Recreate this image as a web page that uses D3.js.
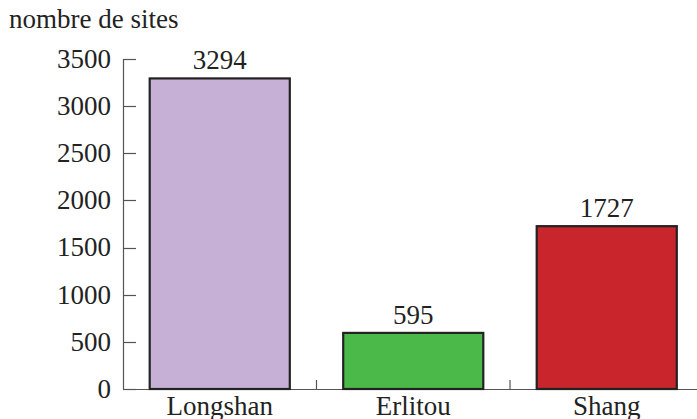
<!DOCTYPE html>
<html><head><meta charset="utf-8">
<script src="https://cdn.jsdelivr.net/npm/d3@7"></script>
<style>body{margin:0;background:#fff}svg{display:block}text{font-family:"Liberation Serif","DejaVu Serif",serif;fill:#222}</style>
</head><body>
<svg id="c" width="697" height="419"></svg>
<script>
const categories = ["Longshan", "Erlitou", "Shang"];
const values = [3294, 595, 1727];
const colors = ["#c6b0d5", "#4bb84a", "#c8252d"];
const yTicks = [0, 500, 1000, 1500, 2000, 2500, 3000, 3500];
const yLabel = "nombre de sites";

const svg = d3.select("#c");
const x = d3.scaleBand().domain(categories).range([123, 703.5]).paddingInner(0.276).paddingOuter(0.138);
const y = d3.scaleLinear().domain([0, 3500]).range([389, 59]);
const fs = 27;

// y axis
svg.append("line").attr("x1", 123.5).attr("x2", 123.5).attr("y1", y(0)).attr("y2", y(3500)).attr("stroke", "#555").attr("stroke-width", 1.2);
svg.selectAll(".yt").data(yTicks).join("line").attr("x1", 123).attr("x2", 136)
  .attr("y1", d => Math.round(y(d)) + 0.5).attr("y2", d => Math.round(y(d)) + 0.5).attr("stroke", "#555").attr("stroke-width", 1.2);
svg.selectAll(".yl").data(yTicks).join("text").attr("x", 111).attr("y", d => y(d)).attr("dy", "0.33em")
  .attr("text-anchor", "end").attr("font-size", fs).text(d => d);

// x axis
svg.append("line").attr("x1", 123).attr("x2", 697).attr("y1", y(0) + 0.5).attr("y2", y(0) + 0.5).attr("stroke", "#555").attr("stroke-width", 1.2);
const step = x.step();
svg.selectAll(".xs").data(categories.slice(1)).join("line")
  .attr("x1", d => x(d) - (step - x.bandwidth()) / 2).attr("x2", d => x(d) - (step - x.bandwidth()) / 2)
  .attr("y1", y(0)).attr("y2", y(0) - 9).attr("stroke", "#555").attr("stroke-width", 1.2);

// bars
svg.selectAll(".bar").data(values).join("rect")
  .attr("x", (d, i) => x(categories[i])).attr("width", x.bandwidth())
  .attr("y", d => y(d)).attr("height", d => y(0) - y(d))
  .attr("fill", (d, i) => colors[i]).attr("stroke", "#222").attr("stroke-width", 2.2);

// value labels
svg.selectAll(".vl").data(values).join("text")
  .attr("x", (d, i) => x(categories[i]) + x.bandwidth() / 2).attr("y", d => y(d) - 9)
  .attr("text-anchor", "middle").attr("font-size", fs).text(d => d);

// category labels
svg.selectAll(".cl").data(categories).join("text")
  .attr("x", d => x(d) + x.bandwidth() / 2).attr("y", 415)
  .attr("text-anchor", "middle").attr("font-size", fs).text(d => d);

// axis title
svg.append("text").attr("x", 9).attr("y", 28).attr("font-size", fs).text(yLabel);
</script>
</body></html>
